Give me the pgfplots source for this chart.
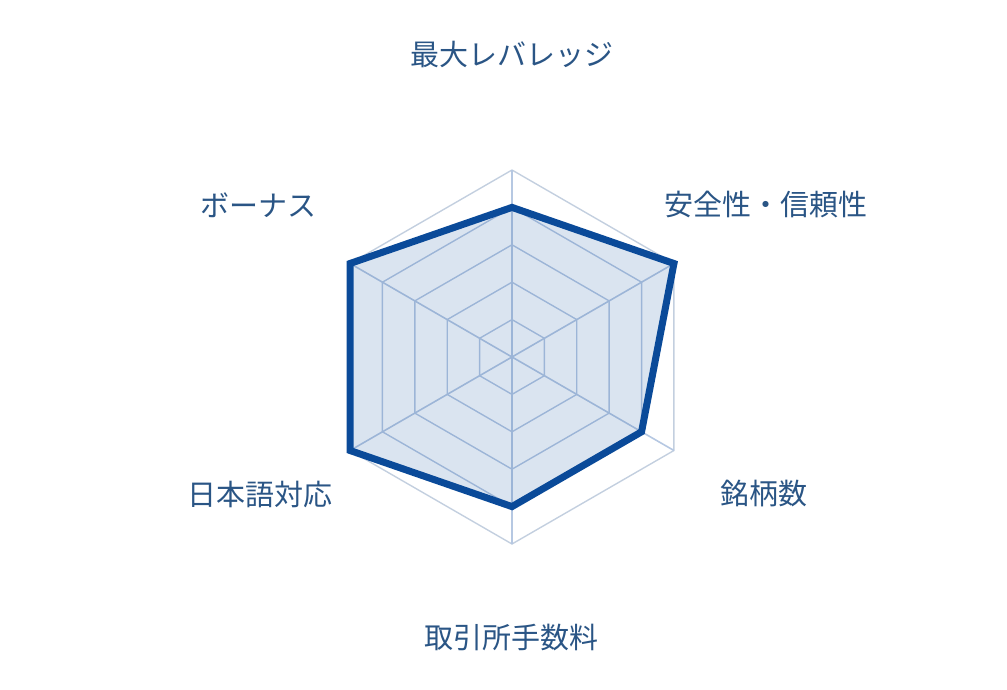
\documentclass[border=0pt]{standalone}
\usepackage{pgfplots}
\pgfplotsset{compat=1.18}
\usepgfplotslibrary{polar}
\usepackage{fontspec}
\setmainfont{Noto Sans CJK JP}
\definecolor{gridc}{HTML}{C3CFDF}
\definecolor{spokec}{HTML}{B6C8E2}
\definecolor{mainblue}{HTML}{0A4A99}
\definecolor{labelc}{HTML}{2A5585}
\begin{document}
\begin{tikzpicture}
\path[use as bounding box] (-256pt,-166.5pt) rectangle (247.5pt,178.5pt);
\begin{polaraxis}[
  hide axis,
  scale only axis,
  width=187pt, height=187pt,
  at={(0,0)}, anchor=center,
  xmin=0, xmax=360, ymin=0, ymax=1,
  clip=false,
]
% grid rings
\foreach \r in {0.2,0.4,0.6,0.8}{
  \addplot[spokec, line width=0.7pt, no markers] coordinates {(90,\r) (30,\r) (330,\r) (270,\r) (210,\r) (150,\r) (90,\r)};
}
\addplot[gridc, line width=0.7pt, no markers] coordinates {(90,1) (30,1) (330,1) (270,1) (210,1) (150,1) (90,1)};
% spokes
\addplot[spokec, line width=0.8pt, no markers] coordinates {(90,0) (90,1)};
\addplot[spokec, line width=0.8pt, no markers] coordinates {(30,0) (30,1)};
\addplot[spokec, line width=0.8pt, no markers] coordinates {(330,0) (330,1)};
\addplot[spokec, line width=0.8pt, no markers] coordinates {(270,0) (270,1)};
\addplot[spokec, line width=0.8pt, no markers] coordinates {(210,0) (210,1)};
\addplot[spokec, line width=0.8pt, no markers] coordinates {(150,0) (150,1)};
% data
\addplot[draw=mainblue, line width=3.5pt, line join=miter, fill=mainblue, fill opacity=0.15, draw opacity=1, no markers]
  coordinates {(90,0.8) (30,1.0) (330,0.8) (270,0.8) (210,1.0) (150,1.0) (90,0.8)} -- cycle;
\end{polaraxis}
\begin{scope}[every node/.style={text=labelc, font=\fontsize{14.5pt}{17pt}\selectfont}]
\node at (0pt,151pt) {最大レバレッジ};
\node at (127pt,76pt) {安全性・信頼性};
\node at (-126.5pt,76pt) {ボーナス};
\node at (126pt,-68.5pt) {銘柄数};
\node at (-126pt,-68.5pt) {日本語対応};
\node at (0pt,-140.5pt) {取引所手数料};
\end{scope}
\end{tikzpicture}
\end{document}
